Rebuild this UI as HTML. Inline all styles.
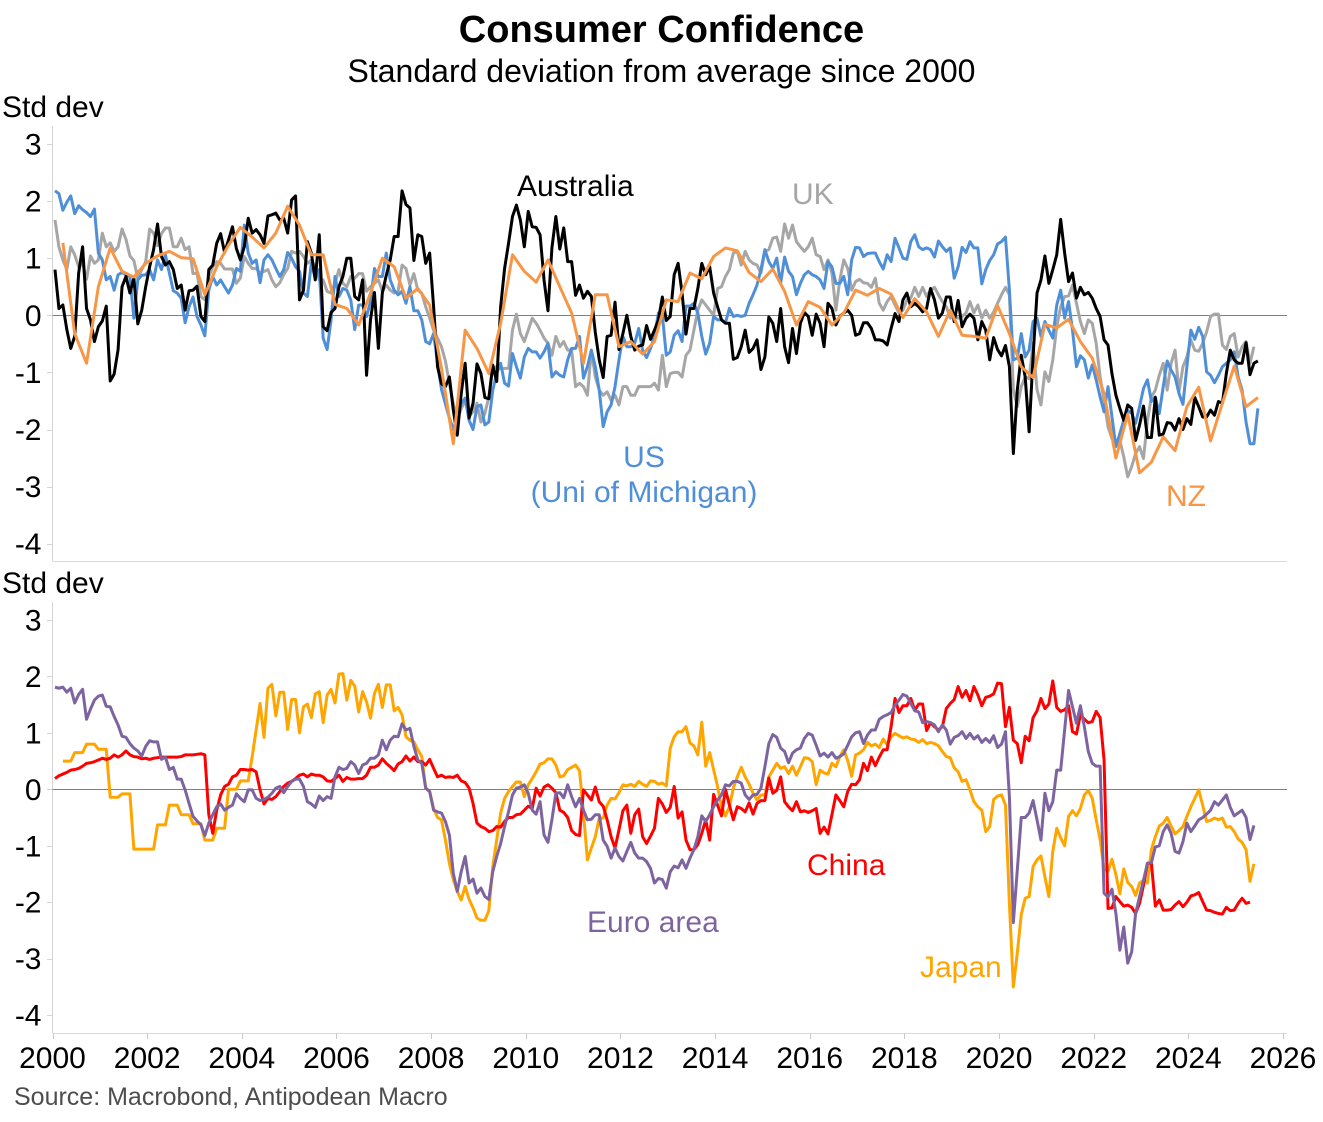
<!DOCTYPE html>
<html lang="en">
<head>
<meta charset="utf-8">
<title>Consumer Confidence</title>
<style>
html,body{margin:0;padding:0;background:#fff;}
svg{display:block;position:absolute;left:0;top:0;}
text{font-family:"Liberation Sans",sans-serif;}
</style>
</head>
<body>
<svg id="chart" xmlns="http://www.w3.org/2000/svg" width="1323" height="1122" viewBox="0 0 1323 1122">
  <rect x="0" y="0" width="1323" height="1122" fill="#ffffff"/>
  <text x="661.5" y="42" font-size="38" font-weight="bold" text-anchor="middle" fill="#000">Consumer Confidence</text>
  <text x="661.5" y="82" font-size="32" text-anchor="middle" fill="#000">Standard deviation from average since 2000</text>
  <text x="2" y="117" font-size="30" fill="#000">Std dev</text>
  <text x="2" y="593" font-size="30" fill="#000">Std dev</text>
  <g id="top-panel"></g>
  <g id="bottom-panel"></g>
  <text x="517" y="196" font-size="30" fill="#000000">Australia</text>
  <text x="792" y="204" font-size="30" fill="#a6a6a6">UK</text>
  <text x="644" y="467" font-size="30" text-anchor="middle" fill="#4f8fd8">US</text>
  <text x="644" y="502" font-size="30" text-anchor="middle" fill="#4f8fd8">(Uni of Michigan)</text>
  <text x="1166" y="506" font-size="30" fill="#f79646">NZ</text>
  <text x="807" y="875" font-size="30" fill="#ff0000">China</text>
  <text x="587" y="932" font-size="30" fill="#7d64a0">Euro area</text>
  <text x="920" y="977" font-size="30" fill="#ffa500">Japan</text>
  <text x="14" y="1105" font-size="25" fill="#4d4d4d">Source: Macrobond, Antipodean Macro</text>
</svg>
<script>
const yearTicks = [2000,2002,2004,2006,2008,2010,2012,2014,2016,2018,2020,2022,2024,2026];
const valueTicks = [3,2,1,0,-1,-2,-3,-4];

const australia = [
.8,.12,.18,-.25,-.58,-.37,.74,1.2,.12,-.08,-.46,-.2,
-.1,.16,-1.15,-1.03,-.6,.5,.68,.39,.65,-.15,.09,.5,
.85,1.15,1.6,1.03,.88,.94,.8,.47,.53,.09,.43,.44,
.51,-.02,-.11,.8,.88,1.26,1.43,1.1,1.32,1.55,1.17,.97,
1.2,1.7,1.44,1.5,1.41,1.26,1.74,1.76,1.79,1.67,1.7,1.44,
2.02,2.09,.27,.44,1.29,1.09,.62,1.41,-.2,-.27,.05,.12,
.5,.68,1,1,.33,.27,.62,-1.05,-.08,.4,-.58,.39,
.7,.97,1.38,1.38,2.18,1.94,1.88,.96,1.41,1.38,.91,1.09,
.15,-.9,-1.2,-1.25,-1.08,-1.66,-2.1,-1.37,-.84,-1.8,-1.54,-.85,
-1.02,-1.44,-1.46,-.87,-1.16,.15,.82,1.26,1.73,1.93,1.67,1.2,
1.82,1.55,1.54,1.41,.62,.08,1.18,1.73,1.16,1.53,.94,.94,
.35,.53,.3,.42,.33,-.3,-.78,-1.09,-.37,-.35,.23,-.6,
-.32,0,-.37,-.61,-.54,-.52,-.18,-.42,-.26,-.08,.32,-.09,
-.02,.71,.91,.39,-.33,.12,.12,.47,.91,.71,.85,.39,
.15,-.08,-.14,-.14,-.77,-.74,-.55,-.26,-.65,-.58,-.43,-.95,
-.73,-.03,-.14,-.46,.12,-.55,-.83,-.23,-.67,-.14,.05,-.02,
-.35,.02,-.14,-.55,.21,.12,-.17,-.02,.04,.09,0,-.35,
-.32,-.13,-.13,-.23,-.43,-.43,-.45,-.52,-.23,.03,-.11,.27,
.39,.15,.21,.15,.06,.12,.47,.27,-.05,.04,.32,.32,
-.11,.26,-.2,-.05,.02,-.05,-.43,-.11,-.26,-.78,-.39,-.6,
-.71,-.53,-.9,-2.42,-1.31,-.7,-1.08,-2.04,-.72,.39,.62,1.04,
.56,.8,1.06,1.68,1.09,.59,.74,.3,.49,.36,.4,.3,
.12,-.02,-.43,-.52,-1.02,-1.4,-1.63,-1.84,-1.57,-1.63,-2.19,-1.92,
-1.59,-2.14,-2.14,-1.44,-2.1,-2.08,-1.88,-1.89,-2.01,-1.81,-2,-1.81,
-1.91,-1.44,-1.6,-1.78,-1.78,-1.66,-1.75,-1.51,-1.54,-1.02,-.61,-.78,
-.84,-.84,-.48,-1.04,-.84,-.8];

const us = [
2.18,2.13,1.84,1.98,2.09,1.78,1.92,1.85,1.8,1.73,1.86,1.09,
.97,.62,.68,.44,.71,.75,.71,.68,-.05,.62,.7,.71,
.8,.62,.97,.8,1.06,.74,.43,.39,.3,-.13,.15,.32,
-.02,-.17,-.36,.44,.68,.53,.62,.5,.39,.53,.82,.77,
1.58,1.09,.91,.97,.57,.97,1.06,.97,.82,.68,.8,1.1,
1,.85,.77,.39,.33,.91,.65,.8,-.4,-.6,-.08,.68,
.33,.47,.44,.27,-.25,.18,.18,-.02,.24,.82,.68,.68,
1.09,.62,.44,.36,.42,.21,.5,.08,.08,-.08,-.46,-.5,
-.32,-.84,-1.3,-1.55,-1.8,-2,-1.8,-1.55,-1.45,-1.84,-2,-1.6,
-1.57,-1.92,-1.87,-1.31,-1.02,-.84,-1.19,-1.24,-.67,-.9,-1.1,-.73,
-.58,-.64,-.64,-.75,-.64,-.49,-1.08,-.99,-1.05,-1.08,-.78,-.58,
-.58,-.37,-1.1,-.9,-.61,-.9,-1.31,-1.95,-1.69,-1.57,-1.25,-.78,
-.37,-.55,-.55,-.49,-.23,-.61,-.74,-.58,-.37,.04,0,-.7,
-.64,-.35,-.27,-.46,.16,.16,.21,.04,-.37,-.68,-.49,-.02,
-.08,-.08,-.13,.12,-.02,0,-.02,0,.21,.36,.53,.8,
1.15,.94,.82,1,.56,1.02,.77,.68,.36,.56,.71,.77,
.71,.68,.62,.47,.94,.85,.56,.56,.68,.36,.97,1.19,
1.18,1.03,1.08,1.09,1.09,.94,.81,1.06,.94,1.35,1.18,1,
.98,1.29,1.41,1.2,1.15,1.18,1.15,1.02,1.3,1.2,1.12,1.18,
.65,.85,1.19,1.1,1.29,1.18,1.18,.55,.8,.96,1.06,1.25,
1.29,1.37,.44,-.78,-.75,-.32,-.73,-.61,-.11,-.05,-.37,-.11,
-.26,-.4,.18,.44,-.05,.24,-.26,-.9,-.71,-.78,-1.1,-.87,
-1.13,-1.43,-1.69,-1.25,-1.78,-2.3,-2.07,-1.84,-1.66,-1.72,-1.89,-1.6,
-1.28,-1.13,-1.51,-1.43,-1.72,-1.25,-.8,-.96,-1.08,-1.37,-1.56,-.9,
-.26,-.42,-.21,-.37,-.99,-1.05,-1.18,-1.05,-.9,-.84,-.78,-.64,
-1.08,-1.31,-1.87,-2.25,-2.25,-1.63];

const uk = [
1.67,1.2,.97,.8,1.2,1.06,.85,.91,.63,1.04,.91,.97,
1.44,1.2,1.27,1.12,1.2,1.51,1.33,1.04,.96,.64,.8,.94,
1.51,1.44,1.22,1.43,1.53,1.53,1.2,1.2,1.35,1.15,1.2,.73,
.74,.33,.27,.68,.85,.94,.91,.81,.81,.81,.56,.65,
1.03,.91,.82,.82,.74,.77,.8,.62,.5,.57,.71,.82,
1.12,1.09,1.12,1.03,.91,.97,.85,.62,.62,.42,.39,.56,
.8,.56,.5,.68,.65,.73,.73,.42,.5,.56,.62,.42,
.53,.44,.39,.42,.88,.82,.53,.73,.44,.39,.15,-.05,
-.26,-.4,-.55,-.8,-1.2,-1.55,-1.84,-1.63,-1.5,-1.77,-1.69,-1.54,
-1.87,-1.72,-1.43,-.93,-.9,-.93,-.93,-.93,-.26,.02,-.32,-.46,
-.26,-.05,-.14,-.26,-.4,-.49,-.7,-.37,-.55,-.46,-.61,-.61,
-1.25,-1.19,-1.25,-1.4,-.61,-1.08,-1.31,-1.4,-1.34,-1.49,-1.4,-1.57,
-1.25,-1.25,-1.4,-1.4,-1.25,-1.25,-1.25,-1.25,-1.19,-1.31,-.7,-1.25,
-1.02,-1,-1,-1.08,-.7,-.61,-.26,.09,.27,.18,.09,0,
.47,.5,.68,.8,1.09,1.12,.88,1.12,.97,.91,.88,.74,
1.12,1.15,1.35,1.37,1.12,1.6,1.35,1.58,1.29,1.2,1.12,1.2,
1.35,1.06,1.03,.8,.97,.74,.09,.62,.97,.82,.44,.59,
.63,.57,.56,.49,.65,.21,.09,.24,.33,.18,.04,.09,
.27,.3,.49,.33,.49,.33,.44,.49,.36,.24,.15,-.05,
0,-.05,-.02,.04,.24,.04,.18,-.05,.09,-.05,.06,.21,
.36,.49,.36,-1.31,-1.6,-1.25,-1.08,-1.11,-.49,-1.3,-1.57,-.99,
-1.16,-.78,-.2,.15,.33,.34,.53,.21,-.11,-.32,-.08,-.14,
-.49,-1.08,-1.5,-1.95,-2.16,-2.19,-2.19,-2.48,-2.83,-2.65,-2.42,-2.3,
-2.51,-1.84,-1.43,-1.31,-1.05,-.84,-1.31,-.84,-.61,-1.34,-.9,-.73,
-.43,-.61,-.63,-.49,-.29,-.02,.02,.02,-.52,-.6,-.37,-.32,
-.73,-.55,-.46,-.84,-.55];

const nz = [
1.27,-.32,-.84,.5,1.18,.77,.67,.91,1.04,1.12,1.01,.99,
.36,.85,1.23,1.54,1.37,1.18,1.44,1.91,1.58,1.06,1.06,.19,
.12,-.17,.39,1,.85,.3,.47,.18,-.93,-2.25,-.26,-.58,
-1.02,-.14,1.06,.77,.58,.97,.5,.04,-.84,.36,.36,-.55,
-.46,-.68,-.46,.27,.24,.74,.64,1.03,1.18,1.13,.75,.59,
.81,.42,-.17,.24,.14,-.17,.04,.44,.35,.47,.37,-.04,
.29,.06,-.37,.09,-.35,-.37,-.4,.17,-.32,-.9,-1.09,-.16,
-.22,-.07,-.46,-.75,-1.37,-2.5,-1.73,-2.76,-2.57,-2.13,-2.37,-1.6,
-1.26,-2.2,-1.54,-.89,-1.6,-1.44];

const china = [
.19,.24,.27,.3,.34,.35,.37,.41,.46,.47,.49,.52,
.55,.53,.55,.61,.57,.61,.68,.61,.58,.57,.54,.55,
.53,.55,.56,.57,.57,.57,.57,.57,.58,.61,.61,.61,
.62,.63,.61,-.45,-.78,-.37,-.1,.05,.09,.22,.25,.35,
.35,.34,.35,.31,-.01,-.26,-.16,-.18,-.13,-.04,.05,.11,
.14,.19,.25,.27,.22,.27,.25,.25,.22,.15,.14,.19,
.25,.14,.21,.18,.18,.19,.19,.25,.39,.39,.43,.54,
.46,.4,.33,.45,.49,.59,.5,.57,.49,.49,.43,.53,
.37,.22,.25,.21,.22,.21,.25,.15,.12,.02,-.25,-.6,
-.66,-.69,-.75,-.73,-.66,-.67,-.57,-.5,-.5,-.45,-.44,-.37,
-.3,-.34,.02,-.12,.04,.08,.02,-.06,-.37,-.41,-.5,-.73,
-.8,-.82,-.01,-.1,-.19,.04,-.22,-.3,-.54,-.84,-1.04,-.72,
-.38,-.28,-.78,-.45,-.35,-.84,-.96,-.83,-.69,-.16,-.26,-.41,
-.32,.05,-.51,-.4,-.9,-1.07,-1.07,-.98,-.78,-.54,-.9,-.09,
-.28,-.47,0,-.28,-.54,-.31,-.34,-.4,-.24,-.44,-.25,-.2,
-.2,.2,-.07,-.02,.22,-.22,-.31,-.38,-.22,-.4,-.38,-.41,
-.38,-.34,-.78,-.67,-.79,-.45,-.1,-.2,-.31,-.04,.09,.08,
.17,.46,.33,.57,.42,.57,.7,.7,1.11,1.61,1.36,1.48,
1.48,1.61,1.4,1.51,1.51,1.04,1.18,1.11,1.05,1.11,1.43,1.52,
1.59,1.82,1.63,1.75,1.57,1.82,1.67,1.48,1.63,1.65,1.69,1.88,
1.87,1.11,1.45,.87,.81,.47,.94,.86,1.27,1.39,1.61,1.43,
1.51,1.92,1.45,1.38,1.41,1.48,1.02,.98,1.32,1.24,1.18,1.2,
1.38,1.27,.52,-2.11,-2.1,-1.9,-1.99,-2.07,-2.05,-2.09,-2.2,-2.02,
-1.7,-1.31,-1.31,-2.07,-1.96,-2.14,-2.14,-2.13,-2.05,-1.99,-2.08,-2,
-1.89,-1.87,-1.83,-1.99,-2.14,-2.15,-2.18,-2.2,-2.21,-2.09,-2.15,-2.14,
-2.02,-1.93,-2.02,-2];

const euroArea = [
1.81,1.79,1.81,1.72,1.79,1.53,1.68,1.77,1.24,1.42,1.58,1.65,
1.67,1.47,1.46,1.29,1.14,.94,.92,.81,.73,.68,.59,.76,
.86,.84,.84,.53,.57,.35,.39,.18,.18,-.01,-.25,-.48,
-.56,-.63,-.82,-.6,-.45,-.31,-.26,-.37,-.32,-.28,-.08,-.16,
-.22,-.01,-.01,-.16,-.2,-.18,-.14,-.07,.02,.05,-.06,.05,
.14,.18,.18,.05,-.22,-.26,-.32,-.12,-.2,-.13,-.16,.22,
.39,.35,.37,.49,.43,.28,.43,.46,.55,.55,.61,.87,
.7,.87,.94,.93,1.16,1.05,1.08,.76,.52,.46,.02,-.04,
-.37,-.4,-.42,-.57,-.81,-1.49,-1.81,-1.46,-1.19,-1.66,-1.59,-1.84,
-1.75,-1.9,-1.95,-1.46,-1.19,-.96,-.66,-.4,-.1,.02,.04,.08,
-.07,-.37,-.44,-.22,-.81,-.94,-.54,-.07,-.06,-.15,.08,-.13,
-.31,-.16,-.37,-.54,-.53,-.45,-.45,-.9,-1.01,-1.22,-1.04,-1.19,
-1.27,-1.1,-.94,-1.13,-1.22,-1.22,-1.28,-1.4,-1.66,-1.58,-1.6,-1.75,
-1.46,-1.36,-1.39,-1.25,-1.4,-1.22,-1.07,-.84,-.47,-.57,-.45,-.31,
-.19,-.1,.08,.06,.14,.14,.11,-.1,-.18,-.1,-.09,.02,
.4,.81,.97,.92,.73,.67,.47,.64,.7,.73,.9,.99,
.96,.78,.59,.64,.57,.65,.55,.58,.63,.78,.93,1,
1.02,.81,.96,1.05,1.05,1.24,1.29,1.32,1.36,1.49,1.58,1.68,
1.65,1.52,1.39,1.37,1.18,1.2,1.18,1.14,1.02,1.14,1.05,.8,
.92,.95,1.02,.9,.99,.89,.95,.83,.9,.83,.95,.74,
.8,1.02,-.13,-2.36,-1.43,-.5,-.5,-.42,-.2,-.54,-.9,-.07,
-.38,-.22,.34,.34,1.05,1.75,1.46,1.17,1.48,1.11,.67,.46,
.41,.41,-1.84,-1.91,-1.77,-2.2,-2.85,-2.44,-3.08,-2.88,-2.2,-1.9,
-1.61,-1.31,-1.3,-1.02,-1,-.75,-.63,-.78,-1.1,-1.13,-.93,-.6,
-.75,-.65,-.54,-.5,-.44,-.37,-.22,-.28,-.19,-.1,-.32,-.47,
-.42,-.37,-.5,-.89,-.64];

const japan = [
.5,.5,.5,.65,.65,.65,.8,.8,.8,.71,
.71,.71,-.14,-.14,-.14,-.08,-.08,-.08,-1.06,-1.06,-1.06,-1.06,
-1.06,-1.06,-.63,-.63,-.63,-.28,-.28,-.28,-.45,-.45,-.45,-.61,
-.61,-.61,-.9,-.9,-.9,-.69,-.69,-.69,0,0,0,.15,
.15,.15,.58,1.05,1.52,.92,1.79,1.86,1.3,1.72,1.72,1.06,
1.59,1.59,1,1.46,1.51,1.27,1.69,1.73,1.18,1.67,1.77,1.53,
2.04,2.05,1.58,1.93,1.83,1.37,1.73,1.55,1.26,1.7,1.86,1.45,
1.85,1.85,1.39,1.45,1.32,.93,.87,.84,.7,.58,.02,-.04,
-.34,-.5,-.54,-.9,-1.31,-1.6,-1.81,-1.96,-1.72,-1.95,-2.1,-2.28,
-2.32,-2.32,-2.15,-1.37,-.9,-.42,-.16,-.04,.05,.13,.13,-.13,
.08,.19,.31,.45,.47,.54,.54,.43,.22,.24,.35,.39,
.43,.33,-.42,-1.25,-1.04,-.84,-.51,-.51,-.28,-.16,-.17,-.06,
.08,.06,.09,.05,.14,.09,.05,.15,.14,.09,.11,.06,
.73,.93,1.02,1.02,1.11,.82,.77,.61,1.19,.41,.65,.35,
.05,-.31,-.47,-.31,.02,.22,.39,.22,.09,-.07,-.19,-.1,
-.1,.22,.34,.46,.37,.4,.28,.41,.25,.4,.56,.55,
.49,.08,.34,.29,.27,.46,.4,.58,.7,.51,.23,.61,
.64,.7,.83,.77,.8,.74,.89,.79,.93,.99,.95,.91,
.93,.89,.88,.83,.88,.81,.83,.81,.77,.67,.58,.56,
.38,.31,.14,.17,-.01,-.22,-.31,-.37,-.75,-.66,-.18,-.12,
-.1,-.28,-2.02,-3.5,-2.9,-2.22,-1.93,-1.9,-1.37,-1.25,-1.18,-1.55,
-1.9,-1.1,-.69,-.86,-1,-.48,-.38,-.47,-.34,-.1,-.02,-.16,
-.54,-.89,-1.42,-1.45,-1.24,-1.51,-1.85,-1.41,-1.65,-1.72,-1.88,-1.66,
-1.61,-1.66,-1.07,-.84,-.65,-.6,-.5,-.65,-.79,-.73,-.66,-.48,
-.31,-.16,-.01,-.28,-.57,-.55,-.51,-.54,-.51,-.67,-.66,-.75,
-.88,-.94,-1.07,-1.63,-1.32];

const SVG_NS = 'http://www.w3.org/2000/svg';

function xYear(year) {
  return 52.5 + (year - 2000) * (1283 - 52.5) / 26;
}
function xMonth(month) {
  return xYear(2000 + (month + 0.63) / 12);
}
function yTop(value) {
  return 315.3 - value * 57.1;
}
function yBottom(value) {
  return 789.3 - value * 56.45;
}

function addLine(parent, x1, y1, x2, y2, color, name) {
  const el = document.createElementNS(SVG_NS, 'line');
  el.setAttribute('x1', x1);
  el.setAttribute('y1', y1);
  el.setAttribute('x2', x2);
  el.setAttribute('y2', y2);
  el.setAttribute('stroke', color);
  el.setAttribute('stroke-width', 1);
  
  
  parent.appendChild(el);
}

function addLabel(parent, x, y, anchor, content, name) {
  const el = document.createElementNS(SVG_NS, 'text');
  el.setAttribute('x', x);
  el.setAttribute('y', y);
  el.setAttribute('font-size', 30);
  el.setAttribute('fill', '#000');
  el.setAttribute('text-anchor', anchor);
  el.textContent = content;
  
  
  parent.appendChild(el);
}

function addSeries(parent, values, startMonth, stepMonths, yFn, color, name) {
  const parts = values.map(function (v, i) {
    return (i ? 'L' : 'M') + xMonth(startMonth + i * stepMonths).toFixed(2) + ' ' + yFn(v).toFixed(2);
  });
  const el = document.createElementNS(SVG_NS, 'path');
  el.setAttribute('d', parts.join(''));
  el.setAttribute('fill', 'none');
  el.setAttribute('stroke', color);
  el.setAttribute('stroke-width', 3);
  el.setAttribute('stroke-linejoin', 'round');
  
  
  parent.appendChild(el);
}

function addYAxis(parent, yFn, top, bottom, prefix) {
  addLine(parent, 52.5, top, 52.5, bottom, '#d4d4d4', prefix + '-y-axis-line');
  valueTicks.forEach(function (v) {
    const y = Math.round(yFn(v)) + 0.5;
    addLine(parent, 47, y, 52.5, y, '#d4d4d4', prefix + '-y-tick');
    addLabel(parent, 41.5, yFn(v) + 10.5, 'end', String(v), prefix + '-y-tick-label');
  });
}

const topPanel = document.getElementById('top-panel');
const bottomPanel = document.getElementById('bottom-panel');

addYAxis(topPanel, yTop, 126, 561, 'top');
addLine(topPanel, 52.5, 561.5, 1287, 561.5, '#d9d9d9', 'top-x-axis-line');
addLine(topPanel, 52.5, Math.round(yTop(0)) + 0.5, 1287, Math.round(yTop(0)) + 0.5, '#7f7f7f', 'top-zero-line');
addSeries(topPanel, uk, 0, 1, yTop, '#a6a6a6', 'series-uk');
addSeries(topPanel, us, 0, 1, yTop, '#4f8fd8', 'series-us');
addSeries(topPanel, australia, 0, 1, yTop, '#000000', 'series-australia');
addSeries(topPanel, nz, 2, 3, yTop, '#f79646', 'series-nz');

addYAxis(bottomPanel, yBottom, 602, 1033, 'bottom');
addLine(bottomPanel, 52.5, 1033.5, 1287, 1033.5, '#d9d9d9', 'bottom-x-axis-line');
addLine(bottomPanel, 52.5, Math.round(yBottom(0)) + 0.5, 1287, Math.round(yBottom(0)) + 0.5, '#7f7f7f', 'bottom-zero-line');
yearTicks.forEach(function (year) {
  const x = Math.round(xYear(year)) + 0.5;
  addLine(bottomPanel, x, 1033.5, x, 1039, '#c8c8c8', 'x-tick');
  addLabel(bottomPanel, xYear(year), 1068, 'middle', String(year), 'x-tick-label');
});
addSeries(bottomPanel, japan, 2, 1, yBottom, '#ffa500', 'series-japan');
addSeries(bottomPanel, china, 0, 1, yBottom, '#ff0000', 'series-china');
addSeries(bottomPanel, euroArea, 0, 1, yBottom, '#7d64a0', 'series-euro-area');
</script>
</body>
</html>
